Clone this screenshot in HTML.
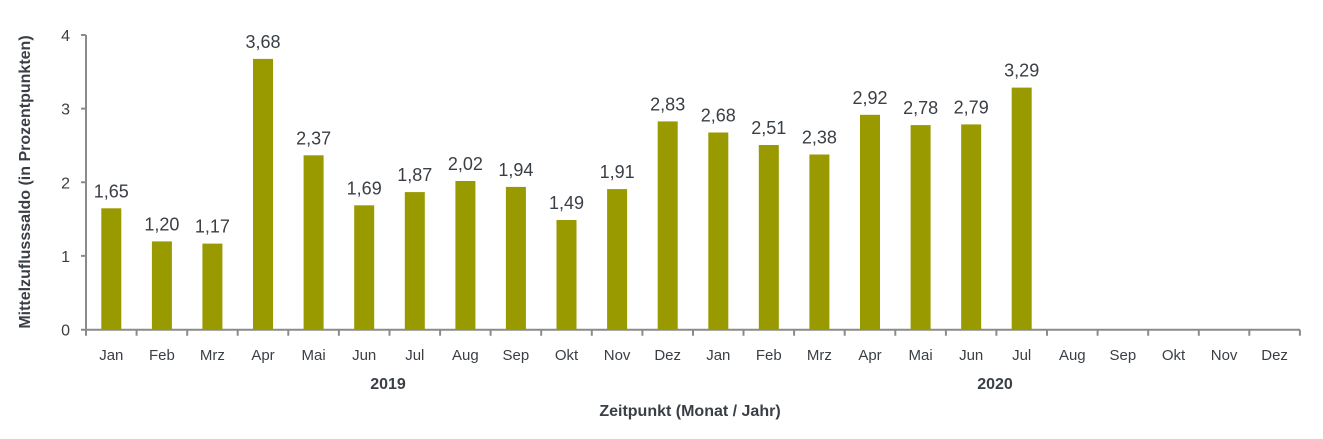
<!DOCTYPE html>
<html><head><meta charset="utf-8"><style>
body{margin:0;background:#fff}
svg text{font-family:"Liberation Sans",sans-serif;fill:#3a3f45}
.v{font-size:18px;text-anchor:middle}
.m{font-size:15px;text-anchor:middle}
</style></head><body>
<svg width="1323" height="434" viewBox="0 0 1323 434" xmlns="http://www.w3.org/2000/svg">
<g stroke="#8a8c8c" stroke-width="2" fill="none">
<line x1="86" y1="35" x2="86" y2="329.7"/>
<line x1="81" y1="329.7" x2="1300" y2="329.7"/>
<path d="M81 35H86M81 108.6H86M81 182.3H86M81 255.9H86"/>
<path d="M86 329.7v6M136.6 329.7v6M187.2 329.7v6M237.7 329.7v6M288.3 329.7v6M338.9 329.7v6M389.5 329.7v6M440.1 329.7v6M490.6 329.7v6M541.2 329.7v6M591.8 329.7v6M642.4 329.7v6M693 329.7v6M743.5 329.7v6M794.1 329.7v6M844.7 329.7v6M895.3 329.7v6M945.9 329.7v6M996.4 329.7v6M1047 329.7v6M1097.6 329.7v6M1148.2 329.7v6M1198.8 329.7v6M1249.3 329.7v6M1299.9 329.7v6"/>
</g>
<g font-size="16" text-anchor="end">
<text x="70" y="41">4</text><text x="70" y="114.6">3</text><text x="70" y="188.3">2</text><text x="70" y="261.9">1</text><text x="70" y="335.7">0</text>
</g>
<g fill="#999900">
<rect x="101.3" y="208.3" width="20" height="121.4"/>
<rect x="151.9" y="241.4" width="20" height="88.3"/>
<rect x="202.4" y="243.6" width="20" height="86.1"/>
<rect x="253" y="58.9" width="20" height="270.8"/>
<rect x="303.6" y="155.3" width="20" height="174.4"/>
<rect x="354.2" y="205.3" width="20" height="124.4"/>
<rect x="404.8" y="192.1" width="20" height="137.6"/>
<rect x="455.4" y="181" width="20" height="148.7"/>
<rect x="505.9" y="186.9" width="20" height="142.8"/>
<rect x="556.5" y="220" width="20" height="109.7"/>
<rect x="607.1" y="189.1" width="20" height="140.6"/>
<rect x="657.7" y="121.4" width="20" height="208.3"/>
<rect x="708.3" y="132.5" width="20" height="197.2"/>
<rect x="758.8" y="145" width="20" height="184.7"/>
<rect x="809.4" y="154.5" width="20" height="175.2"/>
<rect x="860" y="114.8" width="20" height="214.9"/>
<rect x="910.6" y="125.1" width="20" height="204.6"/>
<rect x="961.2" y="124.4" width="20" height="205.3"/>
<rect x="1011.7" y="87.6" width="20" height="242.1"/>
</g>
<g>
<text class="v" x="111.3" y="197.3">1,65</text>
<text class="v" x="161.9" y="230.4">1,20</text>
<text class="v" x="212.4" y="232.6">1,17</text>
<text class="v" x="263" y="47.9">3,68</text>
<text class="v" x="313.6" y="144.3">2,37</text>
<text class="v" x="364.2" y="194.3">1,69</text>
<text class="v" x="414.8" y="181.1">1,87</text>
<text class="v" x="465.4" y="170">2,02</text>
<text class="v" x="515.9" y="175.9">1,94</text>
<text class="v" x="566.5" y="209">1,49</text>
<text class="v" x="617.1" y="178.1">1,91</text>
<text class="v" x="667.7" y="110.4">2,83</text>
<text class="v" x="718.3" y="121.5">2,68</text>
<text class="v" x="768.8" y="134">2,51</text>
<text class="v" x="819.4" y="143.5">2,38</text>
<text class="v" x="870" y="103.8">2,92</text>
<text class="v" x="920.6" y="114.1">2,78</text>
<text class="v" x="971.2" y="113.4">2,79</text>
<text class="v" x="1021.7" y="76.6">3,29</text>
</g>
<g>
<text class="m" x="111.3" y="360">Jan</text><text class="m" x="161.9" y="360">Feb</text><text class="m" x="212.4" y="360">Mrz</text><text class="m" x="263" y="360">Apr</text><text class="m" x="313.6" y="360">Mai</text><text class="m" x="364.2" y="360">Jun</text><text class="m" x="414.8" y="360">Jul</text><text class="m" x="465.4" y="360">Aug</text><text class="m" x="515.9" y="360">Sep</text><text class="m" x="566.5" y="360">Okt</text><text class="m" x="617.1" y="360">Nov</text><text class="m" x="667.7" y="360">Dez</text>
<text class="m" x="718.3" y="360">Jan</text><text class="m" x="768.8" y="360">Feb</text><text class="m" x="819.4" y="360">Mrz</text><text class="m" x="870" y="360">Apr</text><text class="m" x="920.6" y="360">Mai</text><text class="m" x="971.2" y="360">Jun</text><text class="m" x="1021.7" y="360">Jul</text><text class="m" x="1072.3" y="360">Aug</text><text class="m" x="1122.9" y="360">Sep</text><text class="m" x="1173.5" y="360">Okt</text><text class="m" x="1224.1" y="360">Nov</text><text class="m" x="1274.6" y="360">Dez</text>
</g>
<text x="388" y="389" font-size="16" font-weight="bold" text-anchor="middle">2019</text>
<text x="995" y="389" font-size="16" font-weight="bold" text-anchor="middle">2020</text>
<text x="690" y="416" font-size="16" font-weight="bold" text-anchor="middle">Zeitpunkt (Monat / Jahr)</text>
<text transform="translate(30,182) rotate(-90)" font-size="16" font-weight="bold" text-anchor="middle">Mittelzuflusssaldo (in Prozentpunkten)</text>
</svg>
</body></html>
